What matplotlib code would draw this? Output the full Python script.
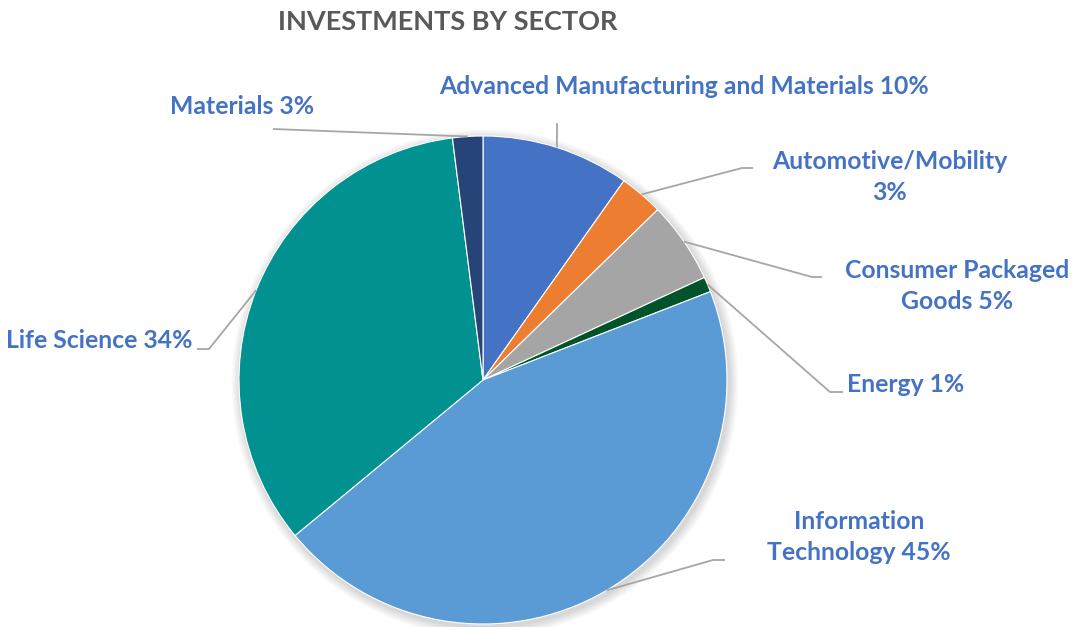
import numpy as np
import matplotlib
matplotlib.use("Agg")
import matplotlib.pyplot as plt
from matplotlib.patches import Circle

# data (clockwise from 12 o'clock)
sectors = ['Advanced Manufacturing and Materials', 'Automotive/Mobility',
           'Consumer Packaged Goods', 'Energy', 'Information Technology',
           'Life Science', 'Materials']
shares = [9.8, 2.9, 5.4, 1.0, 44.9, 34.0, 2.0]
pct_labels = ['10%', '3%', '5%', '1%', '45%', '34%', '3%']
label_text = ['Advanced Manufacturing and Materials 10%', 'Automotive/Mobility\n3%',
              'Consumer Packaged\nGoods 5%', 'Energy 1%', 'Information\nTechnology 45%',
              'Life Science 34%', 'Materials 3%']
colors = ['#4472C4', '#ED7D31', '#A5A5A5', '#00532A', '#5B9BD5', '#009190', '#264478']

W, H = 1079, 627
CX, CY, R = 483, 380, 244

# label layout in pixel coords: (elbow point, end of horizontal tick, text pos, ha)
layout = [
    ((557, 123), (557, 123), (684, 86), 'center'),
    ((742, 168), (753, 168), (890, 177), 'center'),
    ((812, 277), (822, 277), (957, 286), 'center'),
    ((830, 392), (843, 392), (847, 384), 'left'),
    ((713, 560), (725, 560), (859, 537), 'center'),
    ((209, 349), (197, 349), (193, 341), 'right'),
    ((273, 129), (273, 129), (314, 106), 'right'),
]


def px(x, y):
    return x, H - y


plt.rcParams['font.family'] = ['Lato', 'DejaVu Sans']

fig = plt.figure(figsize=(W / 100, H / 100), dpi=100)
ax = fig.add_axes([0, 0, 1, 1])
ax.set_xlim(0, W)
ax.set_ylim(0, H)
ax.set_aspect('equal')
ax.axis('off')

cx, cy = px(CX, CY)

# soft shadow behind the pie
for k in range(8):
    ax.add_patch(Circle((cx + 2, cy - 3), R + 1 + k * 1.2, color='black',
                        alpha=0.018, lw=0, zorder=0))
ax.add_patch(Circle((cx, cy), R, color='white', lw=0, zorder=0.5))

wedges, _ = ax.pie(shares, colors=colors, startangle=90, counterclock=False,
                   center=(cx, cy), radius=R, frame=True,
                   wedgeprops=dict(edgecolor='white', linewidth=0.8))
for w in wedges:
    w.set_zorder(1)
ax.set_xlim(0, W)
ax.set_ylim(0, H)
ax.axis('off')

line_col = '#A6A6A6'
for w, (elbow, tick_end, tpos, ha), txt in zip(wedges, layout, label_text):
    mid = np.deg2rad((w.theta1 + w.theta2) / 2)
    sx, sy = cx + R * np.cos(mid), cy + R * np.sin(mid)
    ex, ey = px(*elbow)
    tx, ty = px(*tick_end)
    ax.plot([sx, ex, tx], [sy, ey, ty], color=line_col, lw=1.3,
            solid_capstyle='butt', zorder=2)
    lx, ly = px(*tpos)
    ax.text(lx, ly, txt, ha=ha, va='center', color='#4472C4',
            fontsize=17.8, fontweight='bold', linespacing=1.38, zorder=3)

ax.text(*px(448, 22), 'INVESTMENTS BY SECTOR', ha='center', va='center',
        color='#595959', fontsize=19.5, fontweight='bold')

fig.savefig('out.png', dpi=100, facecolor='white')
